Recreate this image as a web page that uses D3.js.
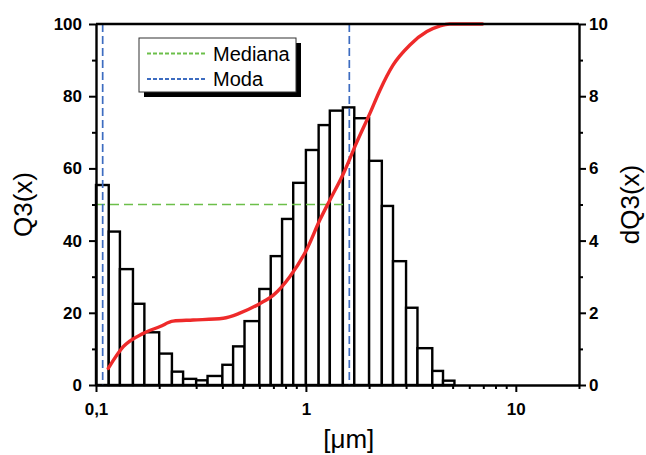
<!DOCTYPE html>
<html>
<head>
<meta charset="utf-8">
<script src="https://cdn.jsdelivr.net/npm/d3@7"></script>
<style>
  body { margin: 0; background: #fff; }
  svg { font-family: "Liberation Sans", Arial, sans-serif; }
  .tick text { font-weight: bold; font-size: 17px; }
</style>
</head>
<body>
<div id="chart"></div>
<script>
// bin edges of the histogram, in micrometres
var binEdges = [0.1, 0.115, 0.13, 0.15, 0.17, 0.2, 0.23, 0.26, 0.3, 0.34, 0.4, 0.45, 0.51, 0.6, 0.68, 0.77, 0.87,
  1, 1.15, 1.3, 1.5, 1.7, 2, 2.3, 2.6, 3, 3.4, 4, 4.5, 5.1];
// dQ3 per bin (right axis)
var dQ3 = [5.54, 4.25, 3.21, 2.25, 1.46, 0.87, 0.37, 0.17, 0.13, 0.25, 0.56, 1.07, 1.77, 2.66, 3.57, 4.6, 5.6,
  6.51, 7.2, 7.6, 7.69, 7.39, 6.21, 4.96, 3.43, 2.14, 1.02, 0.39, 0.12];

// cumulative curve Q3 (left axis)
var q3Size = [0.1144, 0.1349, 0.168, 0.202, 0.233, 0.29, 0.404, 0.484, 0.605, 0.7, 0.838, 1.006, 1.165, 1.3,
  1.51, 1.74, 2.02, 2.25, 2.6, 3.13, 3.77, 4.33, 4.84, 6.94];
var q3Value = [4.6, 10.6, 14.3, 16.2, 17.7, 18.0, 18.5, 19.9, 22.6, 24.9, 30.0, 37.4, 45.7, 51.2,
  58.6, 67, 75.3, 81.6, 88.6, 94.2, 97.9, 99.4, 100, 100];

// mediana / moda markers
var medianaQ3 = 50;
var medianaEnd = 1.59;
var modaSizes = [0.1076, 1.61];

var legendLabels = ['Mediana', 'Moda'];
var legendColors = ['#6cbf4a', '#3d6cc0'];

var svgWidth = 646, svgHeight = 455;
var margin = { top: 24, right: 67, bottom: 70, left: 96 };
var width = svgWidth - margin.left - margin.right;
var height = svgHeight - margin.top - margin.bottom;

var svg = d3.select('#chart').append('svg')
  .attr('width', svgWidth)
  .attr('height', svgHeight);

var chart = svg.append('g')
  .attr('transform', `translate(${margin.left},${margin.top})`);

var x = d3.scaleLog().domain([0.1, 20]).range([0, width]);
var yLeft = d3.scaleLinear().domain([0, 100]).range([height, 0]);
var yRight = d3.scaleLinear().domain([0, 10]).range([height, 0]);

// histogram bars
var bins = dQ3.map((v, i) => ({ x0: binEdges[i], x1: binEdges[i + 1], v: v }));
chart.selectAll('rect.bar')
  .data(bins)
  .enter()
  .append('rect')
  .attr('class', 'bar')
  .attr('x', d => x(d.x0))
  .attr('width', d => x(d.x1) - x(d.x0))
  .attr('y', d => yRight(d.v))
  .attr('height', d => height - yRight(d.v))
  .attr('fill', '#fff')
  .attr('stroke', '#000')
  .attr('stroke-width', 2.4);

// mediana line
chart.append('line')
  .attr('x1', 0)
  .attr('x2', x(medianaEnd))
  .attr('y1', yLeft(medianaQ3))
  .attr('y2', yLeft(medianaQ3))
  .attr('stroke', legendColors[0])
  .attr('stroke-width', 1.7)
  .attr('stroke-dasharray', '9,5');

// moda lines
chart.selectAll('line.moda')
  .data(modaSizes)
  .enter()
  .append('line')
  .attr('class', 'moda')
  .attr('x1', d => x(d))
  .attr('x2', d => x(d))
  .attr('y1', 0)
  .attr('y2', height)
  .attr('stroke', legendColors[1])
  .attr('stroke-width', 1.7)
  .attr('stroke-dasharray', '8,4');

// cumulative curve
var q3Points = q3Size.map((s, i) => [s, q3Value[i]]);
chart.append('path')
  .datum(q3Points)
  .attr('fill', 'none')
  .attr('stroke', '#ee2a2a')
  .attr('stroke-width', 3.4)
  .attr('stroke-linecap', 'round')
  .attr('d', d3.line().x(d => x(d[0])).y(d => yLeft(d[1])).curve(d3.curveMonotoneX));

// axes
var xMajor = [0.1, 1, 10];
var xMinor = [];
[0.1, 1, 10].forEach(dec => { for (var k = 2; k <= 9; k++) { if (dec * k <= 20) xMinor.push(dec * k); } });

function styleAxis(g) {
  g.select('.domain').attr('stroke-width', 2.4);
  g.selectAll('.tick line').attr('stroke-width', 2);
}

chart.append('g')
  .attr('transform', `translate(0,${height})`)
  .call(d3.axisBottom(x).tickValues(xMinor).tickSize(4).tickFormat(''))
  .call(g => g.select('.domain').remove())
  .call(styleAxis);

chart.append('g')
  .attr('transform', `translate(0,${height})`)
  .call(d3.axisBottom(x).tickValues(xMajor).tickSize(7).tickSizeOuter(0).tickPadding(11)
    .tickFormat(d => String(d).replace('.', ',')))
  .call(styleAxis);

chart.append('g')
  .call(d3.axisLeft(yLeft).tickValues(d3.range(10, 100, 20)).tickSize(4).tickFormat(''))
  .call(g => g.select('.domain').remove())
  .call(styleAxis);

chart.append('g')
  .call(d3.axisLeft(yLeft).tickValues(d3.range(0, 101, 20)).tickSize(7).tickSizeOuter(0).tickPadding(7))
  .call(styleAxis);

chart.append('g')
  .attr('transform', `translate(${width},0)`)
  .call(d3.axisRight(yRight).tickValues(d3.range(1, 10, 2)).tickSize(4).tickFormat(''))
  .call(g => g.select('.domain').remove())
  .call(styleAxis);

chart.append('g')
  .attr('transform', `translate(${width},0)`)
  .call(d3.axisRight(yRight).tickValues(d3.range(0, 11, 2)).tickSize(7).tickSizeOuter(0).tickPadding(3))
  .call(styleAxis);

// top frame line
chart.append('line')
  .attr('x1', 0).attr('x2', width)
  .attr('y1', 0).attr('y2', 0)
  .attr('stroke', '#000')
  .attr('stroke-width', 2.4);

chart.selectAll('.tick text').attr('fill', '#000');

// axis titles
svg.append('text')
  .attr('transform', `translate(32,${margin.top + height / 2}) rotate(-90)`)
  .attr('text-anchor', 'middle')
  .attr('font-size', 26)
  .text('Q3(x)');

svg.append('text')
  .attr('transform', `translate(639,${margin.top + height / 2}) rotate(-90)`)
  .attr('text-anchor', 'middle')
  .attr('font-size', 26)
  .text('dQ3(x)');

svg.append('text')
  .attr('x', margin.left + x(1.6))
  .attr('y', 448)
  .attr('text-anchor', 'middle')
  .attr('font-size', 26)
  .text('[\u03bcm]');

// legend
var legend = svg.append('g').attr('transform', 'translate(139,38)');
legend.append('rect')
  .attr('x', 5).attr('y', 5)
  .attr('width', 157).attr('height', 54)
  .attr('fill', '#000');
legend.append('rect')
  .attr('x', 0).attr('y', 0)
  .attr('width', 157).attr('height', 54)
  .attr('fill', '#fff')
  .attr('stroke', '#333')
  .attr('stroke-width', 1);

var items = legend.selectAll('g.item')
  .data(legendLabels)
  .enter()
  .append('g')
  .attr('class', 'item')
  .attr('transform', (d, i) => `translate(0,${15.5 + i * 25.5})`);

items.append('line')
  .attr('x1', 8).attr('x2', 67)
  .attr('stroke', (d, i) => legendColors[i])
  .attr('stroke-width', 2.2)
  .attr('stroke-dasharray', '4,2');

items.append('text')
  .attr('x', 74)
  .attr('y', 7)
  .attr('font-size', 20)
  .text(d => d);
</script>
</body>
</html>
